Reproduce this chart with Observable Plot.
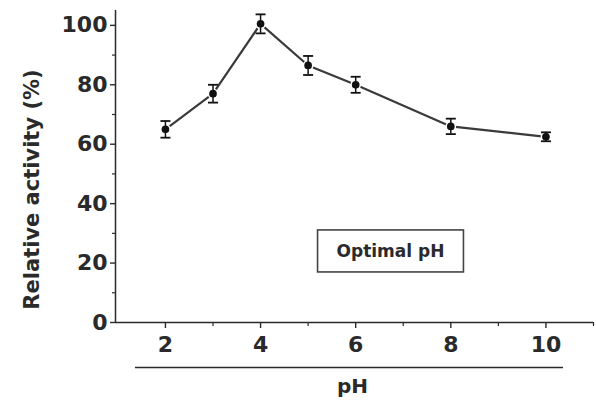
<!DOCTYPE html>
<html><head><meta charset="utf-8">
<script src="https://cdn.jsdelivr.net/npm/d3@7"></script>
<script src="https://cdn.jsdelivr.net/npm/@observablehq/plot@0.6"></script>
<style>
html,body{margin:0;padding:0;background:#fff;}
</style></head><body><div id="chart"></div>
<script>
// ---- data ----
const ph = [2, 3, 4, 5, 6, 8, 10];
const activity = [65, 77, 100.5, 86.5, 80, 66, 62.5];
const errors = [2.8, 3, 3.2, 3.2, 2.7, 2.6, 1.5];
const xTicks = [2, 4, 6, 8, 10];
const xMinorTicks = [3, 5, 7, 9, 11];
const yTicks = [0, 20, 40, 60, 80, 100];
const yMinorTicks = [10, 30, 50, 70, 90];
const legendLabel = "Optimal pH";
const xLabel = "pH";
const yLabel = "Relative activity (%)";

const data = ph.map((p, i) => ({ph: p, activity: activity[i], err: errors[i]}));
const xDomain = [0.95, 11];
const yDomain = [0, 105];
const font = "DejaVu Sans";
const ink = "#2a2a2a";
const capSymbol = {draw(ctx) { ctx.moveTo(-5, 0); ctx.lineTo(5, 0); }};

const chart = Plot.plot({
  width: 596, height: 405,
  marginLeft: 115, marginRight: 3, marginTop: 10, marginBottom: 83,
  style: {fontFamily: font, fontWeight: "bold", color: ink, background: "#fff", overflow: "visible"},
  x: {domain: xDomain},
  y: {domain: yDomain},
  marks: [
    Plot.ruleX([xDomain[0]], {stroke: ink, strokeWidth: 1.5}),
    Plot.ruleY([0], {stroke: ink, strokeWidth: 1.5}),
    Plot.axisY({ticks: yTicks, tickSize: 5, tickPadding: 3, fontSize: 22, label: null, strokeWidth: 1.4}),
    Plot.axisY({ticks: yMinorTicks, tickSize: 3, tickFormat: () => "", label: null, strokeWidth: 1.2}),
    Plot.axisX({ticks: xTicks, tickSize: 6, tickPadding: 8, fontSize: 22, label: null, strokeWidth: 1.4}),
    Plot.axisX({ticks: xMinorTicks, tickSize: 4, tickFormat: () => "", label: null, strokeWidth: 1.2}),
    // bracket line under the x tick labels
    Plot.ruleY([0], {x1: d3.min(ph) - 0.63, x2: d3.max(ph) + 0.37, dy: 45, stroke: ink, strokeWidth: 1.6}),
    Plot.text([xLabel], {frameAnchor: "bottom", dx: -2, dy: 70, fontSize: 20, fontWeight: "bold", fill: ink}),
    Plot.text([yLabel], {frameAnchor: "left", textAnchor: "middle", rotate: -90, dx: -83, dy: 23, fontSize: 21, fontWeight: "bold", fill: ink}),
    Plot.line(data, {x: "ph", y: "activity", stroke: "#3a3a3a", strokeWidth: 2.2}),
    Plot.dot(data, {x: "ph", y: "activity", r: 4.6, fill: "#111", stroke: "#fff", strokeWidth: 1.5}),
    Plot.ruleX(data, {x: "ph", y1: d => d.activity - d.err, y2: d => d.activity + d.err, stroke: "#111", strokeWidth: 1.5}),
    Plot.dot(data, {x: "ph", y: d => d.activity + d.err, symbol: capSymbol, stroke: "#111", fill: "none", strokeWidth: 1.8}),
    Plot.dot(data, {x: "ph", y: d => d.activity - d.err, symbol: capSymbol, stroke: "#111", fill: "none", strokeWidth: 1.8}),
    Plot.text([legendLabel], {frameAnchor: "middle", dx: 36, dy: 85, fontSize: 17, fontWeight: "bold", fill: ink})
  ]
});
document.getElementById("chart").appendChild(chart);

// box around the in-plot legend label
const svg = chart.tagName.toLowerCase() === "svg" ? chart : chart.querySelector("svg");
const txt = Array.from(svg.querySelectorAll("text")).find(t => t.textContent === legendLabel);
if (txt) {
  const bb = txt.getBBox();
  const m = txt.getCTM();
  const padX = 19, padY = 11;
  const p1 = new DOMPoint(bb.x, bb.y).matrixTransform(m);
  const p2 = new DOMPoint(bb.x + bb.width, bb.y + bb.height).matrixTransform(m);
  const rect = document.createElementNS("http://www.w3.org/2000/svg", "rect");
  rect.setAttribute("x", Math.min(p1.x, p2.x) - padX);
  rect.setAttribute("y", Math.min(p1.y, p2.y) - padY);
  rect.setAttribute("width", Math.abs(p2.x - p1.x) + 2 * padX);
  rect.setAttribute("height", Math.abs(p2.y - p1.y) + 2 * padY);
  rect.setAttribute("fill", "none");
  rect.setAttribute("stroke", "#444");
  rect.setAttribute("stroke-width", "1.6");
  svg.appendChild(rect);
}
</script></body></html>
